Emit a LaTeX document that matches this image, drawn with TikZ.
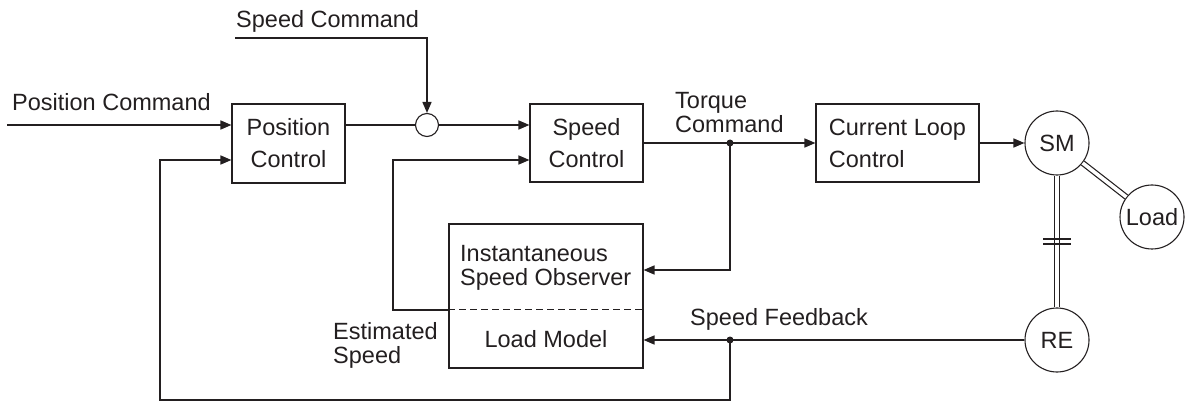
\documentclass[tikz,border=0pt]{standalone}
\usepackage{fontspec}
\setmainfont{Liberation Sans}
\usetikzlibrary{arrows.meta,calc}
\definecolor{ink}{RGB}{35,31,32}
\begin{document}
\begin{tikzpicture}[x=1pt,y=-1pt,
 every node/.style={text=ink, font=\fontsize{23.5}{32}\selectfont},
 blk/.style={draw=ink, line width=1.1pt, inner sep=0pt, align=center},
 lbl/.style={anchor=base west, inner sep=0pt},
 arr/.style={draw=ink, line width=1.6pt, -{Triangle[length=11pt,width=9pt]}},
 wire/.style={draw=ink, line width=1.6pt},
 dot/.style={circle, fill=ink, inner sep=0pt, minimum size=7pt},
 ring/.style={circle, draw=ink, line width=1.1pt, inner sep=0pt, minimum size=64pt},
 shaft/.style={draw=ink, double=white, double distance=3.6pt, line width=1.2pt}]
\useasboundingbox (0,0) rectangle (1186,403);

% blocks
\node[blk, minimum width=113pt, minimum height=79pt] (pc) at (288.5,143.5) {Position\\Control};
\node[circle, draw=ink, line width=1.1pt, inner sep=0pt, minimum size=23pt] (sum) at (427,125) {};
\node[blk, minimum width=113pt, minimum height=78pt] (spc) at (586.5,143) {Speed\\Control};
\node[blk, align=left, minimum width=163pt, minimum height=78pt] (clc) at (897.5,143) {Current Loop\\Control};
\node[blk, minimum width=194pt, minimum height=144pt] (obs) at (546,296) {};
\node[ring] (sm) at (1057,143) {SM};
\node[ring] (ld) at (1152,217) {Load};
\node[ring] (re) at (1057,340) {RE};

% labels
\node[lbl] (poscmd) at (12,111) {Position Command};
\node[lbl] (spdcmd) at (236,28) {Speed Command};
\node[lbl] (tq1) at (675,109) {Torque};
\node[lbl] (tq2) at (675,133) {Command};
\node[lbl] (obs1) at (460,262) {Instantaneous};
\node[lbl] (obs2) at (460,286) {Speed Observer};
\node[anchor=base, inner sep=0pt] (lm) at (546,347) {Load Model};
\node[lbl] (es1) at (333,340) {Estimated};
\node[lbl] (es2) at (333,363) {Speed};
\node[lbl] (sfb) at (690,326) {Speed Feedback};

% helper coordinates
\coordinate (pin) at (7,125);
\coordinate (sin) at (235,38);
\coordinate (row2) at (0,160);
\coordinate (dash) at (0,310);
\coordinate (obsrow) at (0,270);
\coordinate (tj) at (730,143);
\coordinate (fj) at (730,340);
\coordinate (corner) at (160,400);
\coordinate (ebend) at (393,0);

% connectors
\draw[arr] (pin) -- (pc.west |- pin);
\draw[arr] (sin) -| (sum.north);
\draw[wire] (pc.east |- sum) -- (sum.west);
\draw[arr] (sum.east) -- (spc.west |- sum);
\draw[arr] (obs.west |- dash) -| (ebend |- row2) -- (spc.west |- row2);
\draw[ink, line width=1pt, dash pattern=on 6.5pt off 4.5pt] (obs.west |- dash) -- (obs.east |- dash);
\draw[arr] (spc.east) -- (clc.west);
\draw[arr] (tj) |- (obs.east |- obsrow);
\node[dot] (tjdot) at (tj) {};
\draw[arr] (clc.east) -- (sm.west);
\draw[arr] (re.west) -- (obs.east |- re);
\draw[arr] (fj) |- (corner) |- (pc.west |- row2);
\node[dot] (fjdot) at (fj) {};

% shafts
\draw[shaft] (sm) -- (re);
\draw[shaft] (sm) -- (ld);
\draw[ink, line width=1.1pt] (1043,239) -- (1071,239) (1043,244) -- (1071,244);
\end{tikzpicture}
\end{document}
